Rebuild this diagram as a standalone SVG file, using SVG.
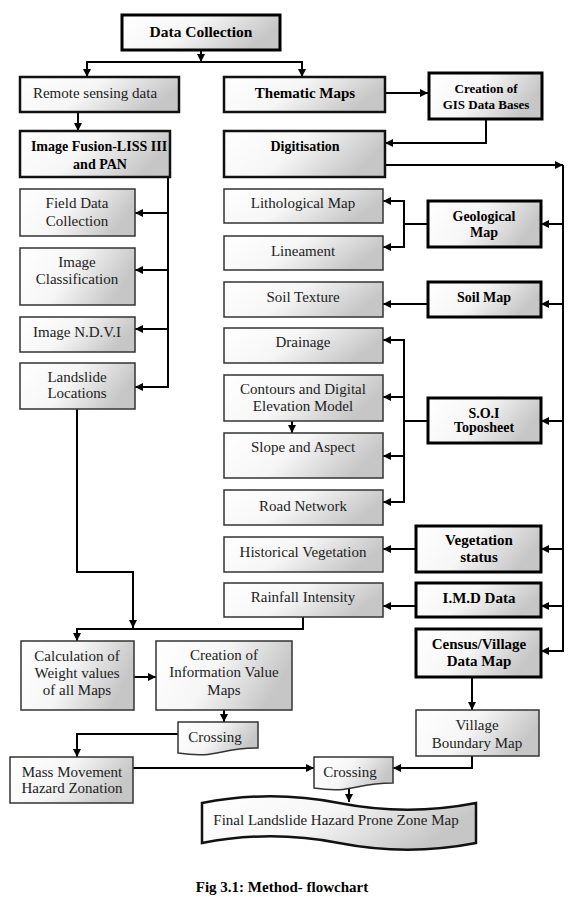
<svg xmlns="http://www.w3.org/2000/svg" width="577" height="905" viewBox="0 0 577 905">
<defs>
<linearGradient id="g" x1="0" y1="0" x2="1" y2="0.3">
<stop offset="0" stop-color="#ffffff"/>
<stop offset="0.5" stop-color="#f6f6f6"/>
<stop offset="1" stop-color="#c6c6c6"/>
</linearGradient>
<marker id="ah" markerUnits="userSpaceOnUse" markerWidth="8" markerHeight="8" refX="8" refY="4" orient="auto">
<path d="M0,0 L8,4 L0,8 Z" fill="#000"/>
</marker>
</defs>
<style>
.n{fill:url(#g);stroke:#333;stroke-width:1.5}
.m{fill:url(#g);stroke:#111;stroke-width:2.5}
.b{fill:url(#g);stroke:#000;stroke-width:3}
text{font-family:"Liberation Serif","Times New Roman",serif;text-anchor:middle;fill:#222;font-size:15px}
.t{font-weight:bold;fill:#000;font-size:14px}
.c{fill:none;stroke:#000;stroke-width:2}
.c path{marker-end:url(#ah)}
</style>
<rect width="577" height="905" fill="#fff"/>
<g id="connectors" class="c">
<path d="M201,50 V62"/>
<path d="M201,62 H87 V77"/>
<path d="M201,62 H302 V77"/>
<path d="M78,112 V131"/>
<path d="M385,93 H428"/>
<path d="M486,119 V143 H385"/>
<path d="M385,165 H563"/>
<path d="M563,165 V651 H541"/>
<path d="M563,224 H541"/>
<path d="M563,304 H541"/>
<path d="M563,421 H541"/>
<path d="M563,549 H541"/>
<path d="M563,606 H541"/>
<path d="M168,177 V387 H135"/>
<path d="M168,213 H135"/>
<path d="M168,270 H135"/>
<path d="M168,329 H135"/>
<path d="M428,224 H404 V201 H383"/>
<path d="M404,224 V247 H383"/>
<path d="M428,304 H383"/>
<path d="M428,421 H404 V340 H383"/>
<path d="M404,397 H383"/>
<path d="M404,421 V502 H383"/>
<path d="M404,456 H383"/>
<path d="M292,421 V433"/>
<path d="M416,549 H383"/>
<path d="M416,606 H383"/>
<path d="M77,409 V572 H133 V628"/>
<path d="M303,617 V629 H77 V641"/>
<path d="M134,677 H156"/>
<path d="M224,710 V722"/>
<path d="M178,734 H77 V757"/>
<path d="M133,768 H314"/>
<path d="M472,677 V710"/>
<path d="M472,756 V768 H393"/>
<path d="M349,788 V802"/>
</g>
<g id="data-collection"><rect class="b" x="122" y="15" width="158" height="35"/><text class="t" x="201" y="37" style="font-size:15.5px">Data Collection</text></g>
<g id="remote-sensing"><rect class="m" x="20" y="77" width="159" height="35"/><text x="95" y="98">Remote sensing data</text></g>
<g id="thematic-maps"><rect class="m" x="224" y="77" width="161" height="35"/><text class="t" x="305" y="98" style="font-size:15px">Thematic Maps</text></g>
<g id="gis-databases"><rect class="b" x="429" y="73" width="113" height="46"/><text class="t" x="486" y="93" style="font-size:13px">Creation of</text><text class="t" x="486" y="109" style="font-size:13px">GIS Data Bases</text></g>
<g id="image-fusion"><rect class="m" x="20" y="131" width="150" height="46"/><text class="t" x="99" y="151">Image Fusion-LISS III</text><text class="t" x="100" y="169">and PAN</text></g>
<g id="digitisation"><rect class="m" x="224" y="131" width="161" height="46"/><text class="t" x="305" y="151">Digitisation</text></g>
<g id="field-data"><rect class="n" x="20" y="189" width="115" height="47"/><text x="77" y="208">Field Data</text><text x="77" y="226">Collection</text></g>
<g id="image-classification"><rect class="n" x="20" y="248" width="115" height="57"/><text x="77" y="267">Image</text><text x="77" y="284">Classification</text></g>
<g id="image-ndvi"><rect class="n" x="20" y="317" width="115" height="35"/><text x="77" y="337">Image N.D.V.I</text></g>
<g id="landslide-locations"><rect class="n" x="20" y="363" width="115" height="46"/><text x="77" y="382">Landslide</text><text x="77" y="398">Locations</text></g>
<g id="lithological"><rect class="n" x="224" y="189" width="159" height="34"/><text x="303" y="208">Lithological Map</text></g>
<g id="lineament"><rect class="n" x="224" y="236" width="159" height="34"/><text x="303" y="256">Lineament</text></g>
<g id="soil-texture"><rect class="n" x="224" y="282" width="159" height="35"/><text x="303" y="302">Soil Texture</text></g>
<g id="drainage"><rect class="n" x="224" y="328" width="159" height="35"/><text x="303" y="347">Drainage</text></g>
<g id="contours"><rect class="n" x="224" y="375" width="159" height="46"/><text x="303" y="394">Contours and Digital</text><text x="303" y="411">Elevation Model</text></g>
<g id="slope"><rect class="n" x="224" y="433" width="159" height="45"/><text x="303" y="452">Slope and Aspect</text></g>
<g id="road"><rect class="n" x="224" y="490" width="159" height="35"/><text x="303" y="511">Road Network</text></g>
<g id="historical-vegetation"><rect class="n" x="224" y="537" width="159" height="35"/><text x="303" y="557">Historical Vegetation</text></g>
<g id="rainfall"><rect class="n" x="224" y="583" width="159" height="34"/><text x="303" y="602">Rainfall Intensity</text></g>
<g id="geological"><rect class="b" x="428" y="201" width="113" height="46"/><text class="t" x="484" y="221">Geological</text><text class="t" x="484" y="237">Map</text></g>
<g id="soil-map"><rect class="b" x="428" y="282" width="113" height="35"/><text class="t" x="484" y="302">Soil Map</text></g>
<g id="soi"><rect class="b" x="428" y="398" width="113" height="45"/><text class="t" x="484" y="418">S.O.I</text><text class="t" x="484" y="432">Toposheet</text></g>
<g id="vegetation-status"><rect class="b" x="416" y="526" width="125" height="46"/><text class="t" x="479" y="545" style="font-size:15px">Vegetation</text><text class="t" x="479" y="562" style="font-size:15px">status</text></g>
<g id="imd"><rect class="b" x="416" y="583" width="125" height="34"/><text class="t" x="479" y="603" style="font-size:15px">I.M.D Data</text></g>
<g id="census"><rect class="b" x="416" y="629" width="125" height="48"/><text class="t" x="479" y="649" style="font-size:15px">Census/Village</text><text class="t" x="479" y="666" style="font-size:15px">Data Map</text></g>
<g id="calculation"><rect class="n" x="21" y="641" width="113" height="69"/><text x="77" y="661">Calculation of</text><text x="77" y="678">Weight values</text><text x="77" y="695">of all Maps</text></g>
<g id="information-value"><rect class="n" x="156" y="641" width="136" height="69"/><text x="224" y="660">Creation of</text><text x="224" y="677">Information Value</text><text x="224" y="695">Maps</text></g>
<g id="crossing-1"><path class="n" d="M178,722 H258 V748 C218,748 218,759 178,753 Z"/><text x="215" y="742">Crossing</text></g>
<g id="village-boundary"><rect class="n" x="416" y="710" width="123" height="46"/><text x="477" y="730">Village</text><text x="477" y="748">Boundary Map</text></g>
<g id="mass-movement"><rect class="n" x="10" y="757" width="123" height="46"/><text x="72" y="777">Mass Movement</text><text x="72" y="793">Hazard Zonation</text></g>
<g id="crossing-2"><path class="n" d="M314,757 H393 V783 C353,783 353,794 314,788 Z"/><text x="350" y="777">Crossing</text></g>
<g id="final-map"><path class="m" d="M202,803 C248,794 293,794 339,803 C385,812 430,812 476,803 L476,843 C430,852 385,852 339,843 C293,834 248,834 202,843 Z"/><text x="336" y="825">Final Landslide Hazard Prone Zone Map</text></g>
<text class="t" x="282" y="892" style="font-size:15px">Fig 3.1: Method- flowchart</text>
</svg>
